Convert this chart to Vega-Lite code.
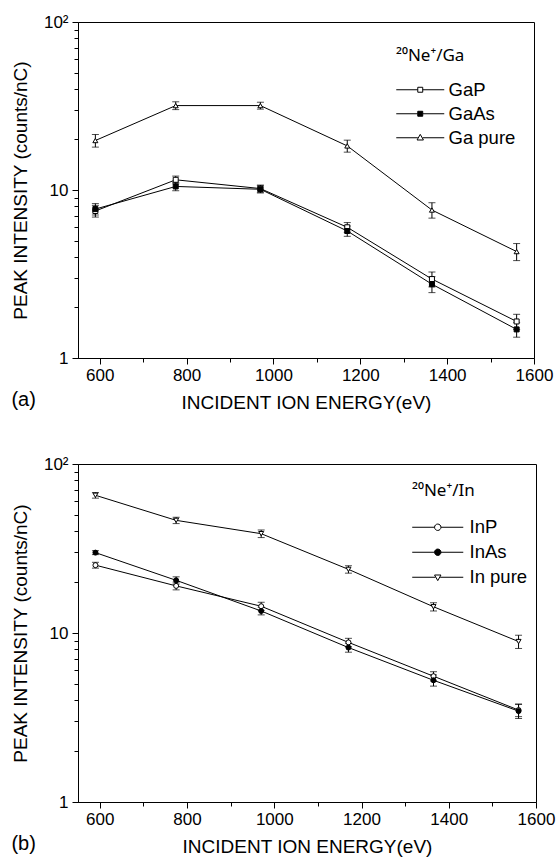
{
  "$schema": "https://vega.github.io/schema/vega-lite/v6.json",
  "background": "white",
  "padding": {"left": 10, "top": 12, "right": 20, "bottom": 10},
  "spacing": 41,
  "config": {
    "font": "Liberation Sans",
    "view": {"stroke": "black", "strokeWidth": 1},
    "axis": {
      "grid": false,
      "domainColor": "black",
      "tickColor": "black",
      "labelColor": "black",
      "titleColor": "black",
      "labelFontSize": 17,
      "titleFontSize": 19,
      "titleFontWeight": "normal",
      "labelOverlap": false,
      "labelFlush": false
    },
    "title": {"fontSize": 20, "fontWeight": "normal", "color": "black"},
    "legend": {
      "titleFontSize": 17,
      "titleFont": "Noto Sans",
      "titleFontWeight": "normal",
      "titleColor": "black",
      "labelFontSize": 18.5,
      "labelColor": "black",
      "padding": 0,
      "symbolStrokeWidth": 1,
      "symbolStrokeColor": "black"
    }
  },
  "datasets": {
    "ga": [
      {"S": "GaP", "E": 590, "I": 7.5, "lo": 6.9, "hi": 8.1},
      {"S": "GaP", "E": 775, "I": 11.5, "lo": 10.9, "hi": 12.1},
      {"S": "GaP", "E": 970, "I": 10.2, "lo": 9.7, "hi": 10.7},
      {"S": "GaP", "E": 1170, "I": 6.0, "lo": 5.6, "hi": 6.4},
      {"S": "GaP", "E": 1365, "I": 2.95, "lo": 2.65, "hi": 3.25},
      {"S": "GaP", "E": 1560, "I": 1.65, "lo": 1.48, "hi": 1.82},
      {"S": "GaAs", "E": 590, "I": 7.7, "lo": 7.1, "hi": 8.3},
      {"S": "GaAs", "E": 775, "I": 10.5, "lo": 9.9, "hi": 11.1},
      {"S": "GaAs", "E": 970, "I": 10.1, "lo": 9.6, "hi": 10.6},
      {"S": "GaAs", "E": 1170, "I": 5.7, "lo": 5.3, "hi": 6.1},
      {"S": "GaAs", "E": 1365, "I": 2.75, "lo": 2.45, "hi": 3.05},
      {"S": "GaAs", "E": 1560, "I": 1.48, "lo": 1.33, "hi": 1.63},
      {"S": "Ga pure", "E": 590, "I": 19.7, "lo": 18.0, "hi": 21.4},
      {"S": "Ga pure", "E": 775, "I": 31.8, "lo": 30.1, "hi": 33.5},
      {"S": "Ga pure", "E": 970, "I": 31.8, "lo": 30.3, "hi": 33.3},
      {"S": "Ga pure", "E": 1170, "I": 18.3, "lo": 16.8, "hi": 19.8},
      {"S": "Ga pure", "E": 1365, "I": 7.6, "lo": 6.8, "hi": 8.4},
      {"S": "Ga pure", "E": 1560, "I": 4.3, "lo": 3.8, "hi": 4.8}
    ],
    "in": [
      {"S": "InP", "E": 590, "I": 25.2, "lo": 24.2, "hi": 26.2},
      {"S": "InP", "E": 775, "I": 19.0, "lo": 18.0, "hi": 20.0},
      {"S": "InP", "E": 970, "I": 14.4, "lo": 13.6, "hi": 15.2},
      {"S": "InP", "E": 1170, "I": 8.8, "lo": 8.3, "hi": 9.3},
      {"S": "InP", "E": 1365, "I": 5.55, "lo": 5.2, "hi": 5.9},
      {"S": "InP", "E": 1560, "I": 3.5, "lo": 3.2, "hi": 3.8},
      {"S": "InAs", "E": 590, "I": 29.9, "lo": 29.1, "hi": 30.7},
      {"S": "InAs", "E": 775, "I": 20.5, "lo": 19.5, "hi": 21.5},
      {"S": "InAs", "E": 970, "I": 13.5, "lo": 12.8, "hi": 14.2},
      {"S": "InAs", "E": 1170, "I": 8.2, "lo": 7.7, "hi": 8.7},
      {"S": "InAs", "E": 1365, "I": 5.25, "lo": 4.85, "hi": 5.65},
      {"S": "InAs", "E": 1560, "I": 3.45, "lo": 3.12, "hi": 3.78},
      {"S": "In pure", "E": 590, "I": 65.3, "lo": 62.8, "hi": 67.8},
      {"S": "In pure", "E": 775, "I": 46.4, "lo": 44.4, "hi": 48.4},
      {"S": "In pure", "E": 970, "I": 38.7, "lo": 36.7, "hi": 40.7},
      {"S": "In pure", "E": 1170, "I": 23.8, "lo": 22.6, "hi": 25.0},
      {"S": "In pure", "E": 1365, "I": 14.3, "lo": 13.5, "hi": 15.1},
      {"S": "In pure", "E": 1560, "I": 8.9, "lo": 8.1, "hi": 9.7}
    ]
  },
  "vconcat": [
    {
      "width": 456,
      "height": 336,
      "data": {"name": "ga"},
      "title": {"text": "(a)", "orient": "bottom", "anchor": "start", "frame": "bounds", "offset": -22},
      "encoding": {
        "x": {
          "field": "E", "type": "quantitative",
          "scale": {"domain": [550, 1600], "nice": false, "zero": false},
          "axis": {
            "title": "INCIDENT ION ENERGY(eV)",
            "values": [600, 700, 800, 900, 1000, 1100, 1200, 1300, 1400, 1500, 1600],
            "format": "d",
            "labelExpr": "datum.value % 200 == 0 ? datum.label : ''",
            "tickSize": {"condition": {"test": "datum.value % 200 == 0", "value": 6}, "value": 4},
            "labelPadding": 3,
            "titlePadding": 10
          }
        }
      },
      "layer": [
        {
          "mark": {"type": "line", "color": "black", "strokeWidth": 1},
          "encoding": {
            "y": {
              "field": "I", "type": "quantitative",
              "title": "PEAK INTENSITY (counts/nC)",
              "scale": {"type": "log", "domain": [1, 100], "nice": false},
              "axis": {
                "values": [1, 2, 3, 4, 5, 6, 7, 8, 9, 10, 20, 30, 40, 50, 60, 70, 80, 90, 100],
                "format": "d",
                "labelExpr": "datum.value == 100 ? '10²' : (datum.value == 10 || datum.value == 1) ? datum.label : ''",
                "tickSize": {"condition": {"test": "datum.value == 1 || datum.value == 10 || datum.value == 100", "value": 6}, "value": 4},
                "labelPadding": 4,
                "titlePadding": 13
              }
            },
            "detail": {"field": "S"}
          }
        },
        {
          "mark": {"type": "errorbar", "color": "black", "ticks": {"size": 7, "thickness": 1, "color": "black"}, "rule": {"strokeWidth": 1, "color": "black"}},
          "encoding": {
            "y": {
              "field": "lo", "type": "quantitative",
              "title": "PEAK INTENSITY (counts/nC)",
              "scale": {"type": "log", "domain": [1, 100], "nice": false}
            },
            "y2": {"field": "hi"}
          }
        },
        {
          "mark": {"type": "point", "filled": true, "stroke": "black", "strokeWidth": 1, "opacity": 1, "fillOpacity": 1, "strokeOpacity": 1},
          "encoding": {
            "y": {
              "field": "I", "type": "quantitative",
              "title": "PEAK INTENSITY (counts/nC)",
              "scale": {"type": "log", "domain": [1, 100], "nice": false}
            },
            "shape": {
              "field": "S",
              "scale": {"domain": ["GaP", "GaAs", "Ga pure"], "range": ["square", "square", "triangle-up"]},
              "legend": null
            },
            "size": {
              "field": "S",
              "scale": {"domain": ["GaP", "GaAs", "Ga pure"], "range": [25, 25, 36]},
              "legend": null
            },
            "fill": {
              "field": "S",
              "scale": {"domain": ["GaP", "GaAs", "Ga pure"], "range": ["white", "black", "white"]},
              "legend": null
            }
          }
        },
        {
          "transform": [{"filter": "datum.E < 0"}],
          "mark": {"type": "point", "filled": true, "strokeWidth": 1, "opacity": 1},
          "encoding": {
            "y": {
              "field": "I", "type": "quantitative",
              "title": "PEAK INTENSITY (counts/nC)",
              "scale": {"type": "log", "domain": [1, 100], "nice": false}
            },
            "shape": {
              "field": "S",
              "scale": {
                "domain": ["GaP", "GaAs", "Ga pure"],
                "range": [
                  "M-3,0H-0.31M0.31,0H3M-0.31,-0.31H0.31V0.31H-0.31Z",
                  "M-3,0H-0.31M0.31,0H3M-0.31,-0.31H0.31V0.31H-0.31Z",
                  "M-3,0H-0.3M0.3,0H3M-0.4,0.28L0,-0.42L0.4,0.28Z"
                ]
              },
              "legend": {
                "title": ["", "²⁰Ne⁺/Ga"],
                "titleLineHeight": 7.5,
                "orient": "top-right",
                "offset": 18,
                "symbolSize": 256,
                "symbolOffset": 15,
                "labelOffset": 19,
                "titlePadding": 16,
                "rowPadding": 5
              }
            },
            "fill": {
              "field": "S",
              "scale": {"domain": ["GaP", "GaAs", "Ga pure"], "range": ["white", "black", "white"]},
              "legend": {
                "title": ["", "²⁰Ne⁺/Ga"],
                "titleLineHeight": 7.5,
                "orient": "top-right",
                "offset": 18,
                "symbolSize": 256,
                "symbolOffset": 15,
                "labelOffset": 19,
                "titlePadding": 16,
                "rowPadding": 5
              }
            },
            "stroke": {
              "field": "S",
              "scale": {"domain": ["GaP", "GaAs", "Ga pure"], "range": ["black", "black", "black"]},
              "legend": {
                "title": ["", "²⁰Ne⁺/Ga"],
                "titleLineHeight": 7.5,
                "orient": "top-right",
                "offset": 18,
                "symbolSize": 256,
                "symbolOffset": 15,
                "labelOffset": 19,
                "titlePadding": 16,
                "rowPadding": 5
              }
            }
          }
        }
      ],
      "resolve": {
        "scale": {"shape": "independent", "fill": "independent", "stroke": "independent"},
        "legend": {"shape": "independent", "fill": "independent", "stroke": "independent"}
      }
    },
    {
      "width": 458,
      "height": 338,
      "data": {"name": "in"},
      "title": {"text": "(b)", "orient": "bottom", "anchor": "start", "frame": "bounds", "offset": -22},
      "encoding": {
        "x": {
          "field": "E", "type": "quantitative",
          "scale": {"domain": [550, 1600], "nice": false, "zero": false},
          "axis": {
            "title": "INCIDENT ION ENERGY(eV)",
            "values": [600, 700, 800, 900, 1000, 1100, 1200, 1300, 1400, 1500, 1600],
            "format": "d",
            "labelExpr": "datum.value % 200 == 0 ? datum.label : ''",
            "tickSize": {"condition": {"test": "datum.value % 200 == 0", "value": 6}, "value": 4},
            "labelPadding": 3,
            "titlePadding": 10
          }
        }
      },
      "layer": [
        {
          "mark": {"type": "line", "color": "black", "strokeWidth": 1},
          "encoding": {
            "y": {
              "field": "I", "type": "quantitative",
              "title": "PEAK INTENSITY (counts/nC)",
              "scale": {"type": "log", "domain": [1, 100], "nice": false},
              "axis": {
                "values": [1, 2, 3, 4, 5, 6, 7, 8, 9, 10, 20, 30, 40, 50, 60, 70, 80, 90, 100],
                "format": "d",
                "labelExpr": "datum.value == 100 ? '10²' : (datum.value == 10 || datum.value == 1) ? datum.label : ''",
                "tickSize": {"condition": {"test": "datum.value == 1 || datum.value == 10 || datum.value == 100", "value": 6}, "value": 4},
                "labelPadding": 4,
                "titlePadding": 13
              }
            },
            "detail": {"field": "S"}
          }
        },
        {
          "mark": {"type": "errorbar", "color": "black", "ticks": {"size": 7, "thickness": 1, "color": "black"}, "rule": {"strokeWidth": 1, "color": "black"}},
          "encoding": {
            "y": {
              "field": "lo", "type": "quantitative",
              "title": "PEAK INTENSITY (counts/nC)",
              "scale": {"type": "log", "domain": [1, 100], "nice": false}
            },
            "y2": {"field": "hi"}
          }
        },
        {
          "mark": {"type": "point", "filled": true, "stroke": "black", "strokeWidth": 1, "opacity": 1, "fillOpacity": 1, "strokeOpacity": 1},
          "encoding": {
            "y": {
              "field": "I", "type": "quantitative",
              "title": "PEAK INTENSITY (counts/nC)",
              "scale": {"type": "log", "domain": [1, 100], "nice": false}
            },
            "shape": {
              "field": "S",
              "scale": {"domain": ["InP", "InAs", "In pure"], "range": ["circle", "circle", "triangle-down"]},
              "legend": null
            },
            "size": {
              "field": "S",
              "scale": {"domain": ["InP", "InAs", "In pure"], "range": [28, 28, 36]},
              "legend": null
            },
            "fill": {
              "field": "S",
              "scale": {"domain": ["InP", "InAs", "In pure"], "range": ["white", "black", "white"]},
              "legend": null
            }
          }
        },
        {
          "transform": [{"filter": "datum.E < 0"}],
          "mark": {"type": "point", "filled": true, "strokeWidth": 1, "opacity": 1},
          "encoding": {
            "y": {
              "field": "I", "type": "quantitative",
              "title": "PEAK INTENSITY (counts/nC)",
              "scale": {"type": "log", "domain": [1, 100], "nice": false}
            },
            "shape": {
              "field": "S",
              "scale": {
                "domain": ["InP", "InAs", "In pure"],
                "range": [
                  "M-3.19,0H-0.4M0.4,0H3.19M-0.4,0A0.4,0.4,0,1,0,0.4,0A0.4,0.4,0,1,0,-0.4,0Z",
                  "M-3.19,0H-0.4M0.4,0H3.19M-0.4,0A0.4,0.4,0,1,0,0.4,0A0.4,0.4,0,1,0,-0.4,0Z",
                  "M-3.19,0H-0.3M0.3,0H3.19M-0.4,-0.28L0.4,-0.28L0,0.42Z"
                ]
              },
              "legend": {
                "title": ["", "²⁰Ne⁺/In"],
                "titleLineHeight": 11,
                "orient": "top-right",
                "offset": 8,
                "symbolSize": 256,
                "symbolOffset": 16.5,
                "labelOffset": 22.5,
                "titlePadding": 18,
                "rowPadding": 6
              }
            },
            "fill": {
              "field": "S",
              "scale": {"domain": ["InP", "InAs", "In pure"], "range": ["white", "black", "white"]},
              "legend": {
                "title": ["", "²⁰Ne⁺/In"],
                "titleLineHeight": 11,
                "orient": "top-right",
                "offset": 8,
                "symbolSize": 256,
                "symbolOffset": 16.5,
                "labelOffset": 22.5,
                "titlePadding": 18,
                "rowPadding": 6
              }
            },
            "stroke": {
              "field": "S",
              "scale": {"domain": ["InP", "InAs", "In pure"], "range": ["black", "black", "black"]},
              "legend": {
                "title": ["", "²⁰Ne⁺/In"],
                "titleLineHeight": 11,
                "orient": "top-right",
                "offset": 8,
                "symbolSize": 256,
                "symbolOffset": 16.5,
                "labelOffset": 22.5,
                "titlePadding": 18,
                "rowPadding": 6
              }
            }
          }
        }
      ],
      "resolve": {
        "scale": {"shape": "independent", "fill": "independent", "stroke": "independent"},
        "legend": {"shape": "independent", "fill": "independent", "stroke": "independent"}
      }
    }
  ]
}
